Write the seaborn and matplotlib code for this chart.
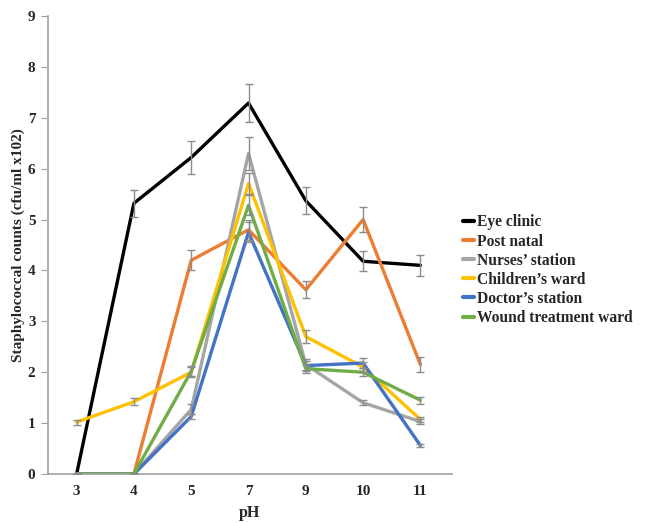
import numpy as np
import pandas as pd
import matplotlib
matplotlib.use("Agg")
import matplotlib.pyplot as plt
import seaborn as sns

PH = ["3", "4", "5", "7", "9", "10", "11"]

SITES = ["Eye clinic", "Post natal", "Nurses\u2019 station",
         "Children\u2019s ward", "Doctor\u2019s station", "Wound treatment ward"]

EYE_CLINIC = [0, 5.32, 6.22, 7.29, 5.37, 4.18, 4.1]
POST_NATAL = [0, 0, 4.2, 4.8, 3.62, 5.0, 2.15]
NURSES = [0, 0, 1.27, 6.3, 2.15, 1.4, 1.03]
CHILDREN = [1.02, 1.42, 2.0, 5.71, 2.7, 2.1, 1.07]
DOCTOR = [0, 0, 1.13, 4.75, 2.13, 2.18, 0.56]
WOUND = [0, 0, 2.02, 5.28, 2.07, 2.0, 1.45]

EYE_ERR = [0, 0.27, 0.32, 0.37, 0.27, 0.2, 0.2]
POST_ERR = [0, 0, 0.2, 0.2, 0.17, 0.25, 0.15]
NURSES_ERR = [0, 0, 0.1, 0.33, 0.1, 0.05, 0.05]
CHILDREN_ERR = [0.05, 0.07, 0.1, 0.2, 0.13, 0.1, 0.05]
DOCTOR_ERR = [0, 0, 0.05, 0.2, 0.1, 0.1, 0.03]
WOUND_ERR = [0, 0, 0.1, 0.2, 0.08, 0.08, 0.07]

COLORS = ["#000000", "#ED7D31", "#A5A5A5", "#FFC000", "#4472C4", "#70AD47"]

values = [EYE_CLINIC, POST_NATAL, NURSES, CHILDREN, DOCTOR, WOUND]
errors = [EYE_ERR, POST_ERR, NURSES_ERR, CHILDREN_ERR, DOCTOR_ERR, WOUND_ERR]

rows = []
for site, vals, errs in zip(SITES, values, errors):
    for i, (v, e) in enumerate(zip(vals, errs)):
        rows.append({"pos": i, "pH": PH[i], "site": site, "count": v, "err": e})
df = pd.DataFrame(rows)

sns.set_style("white")
plt.rcParams["font.family"] = ["Liberation Serif", "DejaVu Serif"]

fig = plt.figure(figsize=(6.51, 5.23), dpi=100)
ax = fig.add_axes([0.0737, 0.0937, 0.6205, 0.8757])

sns.lineplot(data=df, x="pos", y="count", hue="site", hue_order=SITES,
             palette=COLORS, linewidth=2.4, ax=ax, legend=True, sort=False)

# error bars on top of the lines
ax.errorbar(df["pos"], df["count"], yerr=df["err"], fmt="none",
            ecolor="#8c8c8c", elinewidth=1, capsize=3, capthick=1, zorder=5)

ax.set_xlim(-0.5, 6.55)
ax.set_ylim(0, 9)
ax.set_xticks(range(len(PH)))
ax.set_xticklabels(PH, fontweight="bold", fontsize=11)
ax.set_xticks(np.arange(-0.5, 7, 1), minor=True)
ax.tick_params(axis="x", which="major", length=0, pad=8)
ax.tick_params(axis="x", which="minor", length=5, color="#A0A0A0", direction="out")
ax.set_yticks(range(10))
ax.set_yticklabels([str(i) for i in range(10)], fontweight="bold", fontsize=11)
ax.tick_params(axis="y", length=5, color="#A0A0A0", direction="out", left=True, pad=4)

for side in ["top", "right"]:
    ax.spines[side].set_visible(False)
for side in ["left", "bottom"]:
    ax.spines[side].set_color("#A0A0A0")
    ax.spines[side].set_linewidth(1.2)

ax.set_xlabel("pH", fontweight="bold", fontsize=11.5, labelpad=5)
ax.set_ylabel("Staphylococcal counts (cfu/ml x102)", fontweight="bold", fontsize=11, labelpad=2)

leg = ax.legend(loc="center left", bbox_to_anchor=(1.0, 0.445), frameon=False,
                handlelength=0.7, handletextpad=0.2, labelspacing=0.2,
                borderaxespad=0.3, prop={"weight": "bold", "size": 11.2})
for line in leg.get_lines():
    line.set_linewidth(3)

fig.savefig("out.png", dpi=100)
